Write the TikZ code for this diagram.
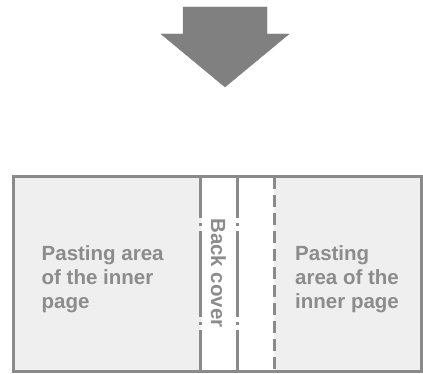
\documentclass[tikz,border=0pt]{standalone}
\usepackage{fontspec}
\setmainfont{Liberation Sans}

\definecolor{linegray}{HTML}{8A8A8A}
\definecolor{fillgray}{HTML}{EFEFEF}
\definecolor{arrowgray}{HTML}{808080}
\definecolor{textgray}{HTML}{8C8C8C}

\tikzset{
	pastetext/.style={anchor=base west, align=left, inner sep=0pt, text=textgray, font=\bfseries\fontsize{20.5}{24}\selectfont},
	foldline/.style={linegray, line width=3pt, dash pattern=on 86pt off 5pt on 3pt off 5pt, dash phase=45pt},
	cutline/.style={linegray, line width=3pt, dash pattern=on 12pt off 6pt}
}

\begin{document}
\begin{tikzpicture}[x=1pt, y=-1pt]
		\useasboundingbox (0, 0) rectangle (423, 374);

		\filldraw[arrowgray] (183, 7) -- (267, 7) -- (267, 34) -- (289, 34) -- (225, 87) -- (161, 34) -- (183, 34) -- cycle;

		\filldraw[fillgray] (13, 177) rectangle (200, 371);
		\filldraw[fillgray] (274, 177) rectangle (421, 371);

		\draw[foldline] (200, 177) -- (200, 371);
		\draw[foldline] (237, 177) -- (237, 371);
		\draw[cutline] (274, 177) -- (274, 371);

		\draw[linegray, line width=3pt] (13, 177) rectangle (421, 371);

		\node[pastetext] (inner1) at (41.5, 308) {Pasting area\\of the inner\\page};
		\node[pastetext] (inner2) at (295, 308) {Pasting\\area of the\\inner page};
		\node[pastetext, rotate=-90, anchor=base] (spine) at (211, 273) {Back cover};
	\end{tikzpicture}
\end{document}
